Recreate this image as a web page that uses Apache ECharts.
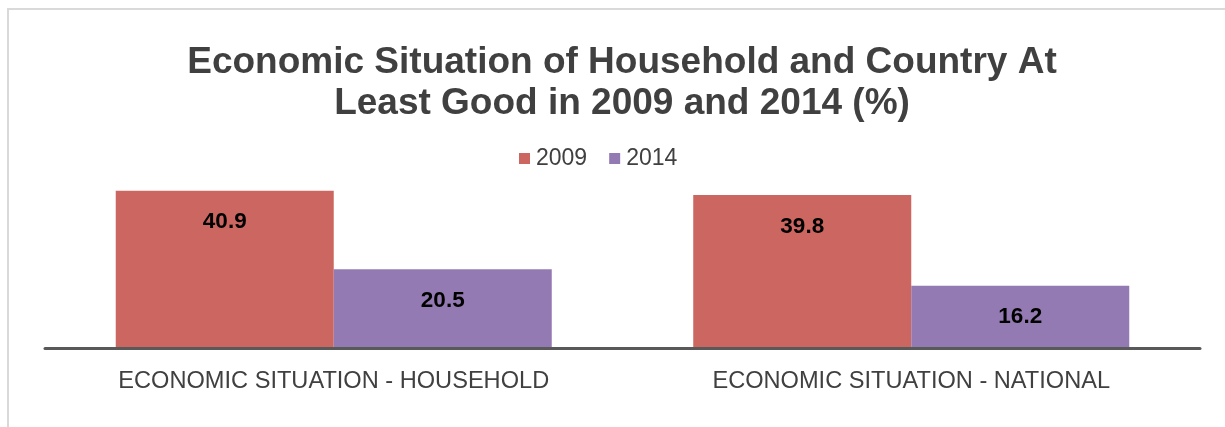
<!DOCTYPE html>
<html>
<head>
<meta charset="utf-8">
<title>Economic Situation of Household and Country</title>
<script src="https://cdn.jsdelivr.net/npm/echarts@6/dist/echarts.min.js"></script>
<style>
  html, body { margin: 0; padding: 0; background: #ffffff; }
  #chart { width: 1225px; height: 427px; }
</style>
</head>
<body>
<div id="chart"></div>
<script>
// Share of respondents rating the economic situation at least good (%)
const categories = ['ECONOMIC SITUATION - HOUSEHOLD', 'ECONOMIC SITUATION - NATIONAL'];
const seriesNames = ['2009', '2014'];
const values2009 = [40.9, 39.8];
const values2014 = [20.5, 16.2];

const FONT = '"Liberation Sans", Arial, Helvetica, sans-serif';
const TEXT = '#404040';
const COLORS = ['#CC6660', '#947AB2'];

const chart = echarts.init(document.getElementById('chart'), null, { renderer: 'canvas' });

function barSeries(name, data, color) {
  return {
    name: name,
    type: 'bar',
    data: data,
    barGap: '0%',
    barCategoryGap: '24.5%',
    itemStyle: { color: color },
    label: {
      show: true,
      position: 'insideTop',
      distance: 20,
      color: '#000000',
      fontFamily: FONT,
      fontWeight: 'bold',
      fontSize: 22.5
    },
    emphasis: { disabled: true },
    z: 1
  };
}

chart.setOption({
  animation: false,
  backgroundColor: '#ffffff',
  title: {
    text: 'Economic Situation of Household and Country At\nLeast Good in 2009 and 2014 (%)',
    left: 622,
    top: 42,
    padding: 0,
    textAlign: 'center',
    textStyle: {
      color: TEXT,
      fontFamily: FONT,
      fontWeight: 'bold',
      fontSize: 37,
      lineHeight: 41
    }
  },
  legend: {
    data: seriesNames,
    left: 519,
    top: 147,
    padding: 0,
    itemWidth: 11,
    itemHeight: 11,
    itemGap: 22,
    icon: 'rect',
    textStyle: { color: TEXT, fontFamily: FONT, fontSize: 23, padding: [0, 0, 0, 1] },
    selectedMode: false
  },
  grid: {
    left: 45,
    right: 25,
    top: 175,
    bottom: 79,
    containLabel: false
  },
  xAxis: {
    type: 'category',
    data: categories,
    axisLine: { show: true, lineStyle: { color: '#595959', width: 3 } },
    axisTick: { show: false },
    axisLabel: {
      color: TEXT,
      fontFamily: FONT,
      fontSize: 23.6,
      margin: 21,
      interval: 0
    },
    z: 5
  },
  yAxis: {
    type: 'value',
    min: 0,
    max: 45,
    show: false,
    splitLine: { show: false }
  },
  graphic: [
    {
      type: 'rect',
      shape: { x: 8, y: 9, width: 1400, height: 600 },
      style: { fill: 'none', stroke: '#d9d9d9', lineWidth: 2 },
      silent: true,
      z: 0
    }
  ],
  series: [
    barSeries(seriesNames[0], values2009, COLORS[0]),
    barSeries(seriesNames[1], values2014, COLORS[1])
  ]
});
</script>
</body>
</html>
